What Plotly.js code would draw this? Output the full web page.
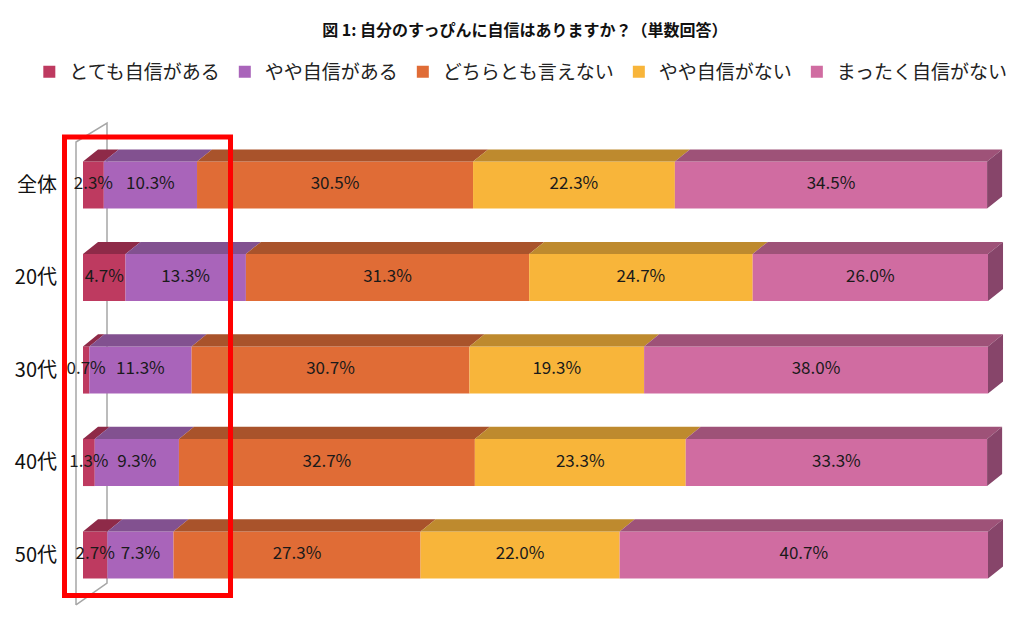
<!DOCTYPE html>
<html><head><meta charset="utf-8">
<script src="https://cdn.plot.ly/plotly-3.0.1.min.js"></script>
<style>body{margin:0;background:#fff;} #chart{width:1019px;height:618px;}</style>
</head><body><div id="chart"></div>
<script>
const categories = ['全体','20代','30代','40代','50代'];
const seriesNames = ['とても自信がある','やや自信がある','どちらとも言えない','やや自信がない','まったく自信がない'];
const vTotemo  = [2.3, 4.7, 0.7, 1.3, 2.7];
const vYaya    = [10.3, 13.3, 11.3, 9.3, 7.3];
const vDochira = [30.5, 31.3, 30.7, 32.7, 27.3];
const vYayaNai = [22.3, 24.7, 19.3, 23.3, 22.0];
const vMattaku = [34.5, 26.0, 38.0, 33.3, 40.7];

const series = [vTotemo, vYaya, vDochira, vYayaNai, vMattaku];
const frontColors = ['#BE3A60','#A964BA','#E06C36','#F8B53A','#D06CA1'];
const topColors   = ['#8E2A48','#825190','#A9532B','#BE8A2E','#9E5278'];
const sideColor = '#87456A';

const rows = categories.map((c,i)=>i);
const barW = 0.51;      // bar thickness in category units
const dx = 1.66;        // depth offset in x units
const dy = 0.13;        // depth offset in y units

const traces = [];
// front faces
series.forEach((vals, s) => {
  const base = rows.map(r => { let b = 0; for (let k=0;k<s;k++) b += series[k][r]; return b; });
  traces.push({
    type:'bar', orientation:'h', name: seriesNames[s],
    x: vals, y: rows, base: base, width: barW,
    marker:{color: frontColors[s], line:{width:0}},
    textposition:'none', hoverinfo:'skip', showlegend:true
  });
});
// top faces
series.forEach((vals, s) => {
  const xs = [], ys = [];
  rows.forEach(r => {
    let a = 0; for (let k=0;k<s;k++) a += series[k][r];
    const b = a + vals[r];
    const yt = r - barW/2;
    xs.push(a, b, b+dx, a+dx, a, null);
    ys.push(yt, yt, yt-dy, yt-dy, yt, null);
  });
  traces.push({type:'scatter', mode:'lines', x:xs, y:ys, fill:'toself',
    fillcolor: topColors[s], line:{width:0, color: topColors[s]}, showlegend:false, hoverinfo:'skip'});
});
// right side faces
{
  const xs = [], ys = [];
  rows.forEach(r => {
    let t = 0; series.forEach(v => t += v[r]);
    const yt = r - barW/2, yb = r + barW/2;
    xs.push(t, t+dx, t+dx, t, t, null);
    ys.push(yt, yt-dy, yb-dy, yb, yt, null);
  });
  traces.push({type:'scatter', mode:'lines', x:xs, y:ys, fill:'toself',
    fillcolor: sideColor, line:{width:0, color: sideColor}, showlegend:false, hoverinfo:'skip'});
}
// data labels
{
  const xs = [], ys = [], txt = [];
  series.forEach((vals, s) => {
    rows.forEach(r => {
      let a = 0; for (let k=0;k<s;k++) a += series[k][r];
      xs.push(a + vals[r]/2); ys.push(r); txt.push(vals[r].toFixed(1) + '%');
    });
  });
  traces.push({type:'scatter', mode:'text', x:xs, y:ys, text:txt, textposition:'middle center',
    textfont:{family:'"Noto Sans CJK JP", "Noto Sans", sans-serif', size:17, color:'#1a1a1a'},
    showlegend:false, hoverinfo:'skip', cliponaxis:false});
}

const layout = {
  width:1019, height:618,
  margin:{l:58, r:5, t:100, b:8},
  paper_bgcolor:'#ffffff', plot_bgcolor:'#ffffff',
  barmode:'overlay',
  font:{family:'"Noto Sans CJK JP", sans-serif', color:'#000'},
  title:{text:'<b>図 1: 自分のすっぴんに自信はありますか？（単数回答）</b>',
    x:0.515, xref:'container', xanchor:'center', y:0.951, yref:'container', yanchor:'middle',
    font:{size:16, color:'#111', family:'"Noto Sans CJK JP", sans-serif'}},
  xaxis:{range:[-2.762, 102.873], visible:false, fixedrange:true},
  yaxis:{range:[4.595, -0.919], tickvals: rows, ticktext: categories, showgrid:false, zeroline:false,
    showline:false, ticks:'', tickfont:{size:20, color:'#111'}, fixedrange:true},
  legend:{orientation:'h', x:-0.03, xanchor:'left', y:1.055, yanchor:'middle', traceorder:'normal',
    font:{size:19, color:'#222'}, itemwidth:30, bgcolor:'rgba(0,0,0,0)'},
  shapes:[
    {type:'path', xref:'x', yref:'y', layer:'below',
      path:'M -0.773 4.54 L -0.773 -0.465 L 2.652 -0.670 L 2.652 4.303 L -0.773 4.54',
      line:{color:'#A6A6A6', width:1.5}},
    {type:'rect', xref:'x', yref:'y', layer:'above', x0:-2.044, x1:16.30, y0:-0.519, y1:4.438,
      line:{color:'#FF0000', width:5}, fillcolor:'rgba(0,0,0,0)'}
  ],
  showlegend:true
};
Plotly.newPlot('chart', traces, layout, {displayModeBar:false, staticPlot:true});
</script>
</body></html>
